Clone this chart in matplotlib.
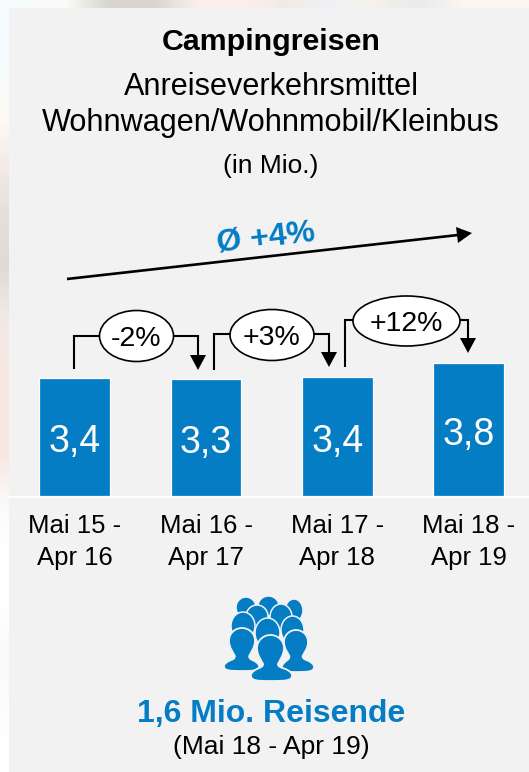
import matplotlib
matplotlib.use("Agg")
import matplotlib.pyplot as plt
from matplotlib.colors import to_rgb
from matplotlib.patches import Ellipse, PathPatch, Polygon, Rectangle
from matplotlib.path import Path

# ── Data ──────────────────────────────────────────────────────────────────────
PERIODS = ["Mai 15 -\nApr 16", "Mai 16 -\nApr 17", "Mai 17 -\nApr 18", "Mai 18 -\nApr 19"]
VALUES = [3.40, 3.36, 3.43, 3.83]
VALUE_LABELS = ["3,4", "3,3", "3,4", "3,8"]
CHANGES = ["-2%", "+3%", "+12%"]

# colours of the faded photo behind the panel, sampled along the two visible strips
TOP_STRIP = ["#F6FCFD", "#FBFBF8", "#D6D3D0", "#D8D5D2", "#FBEFEA", "#FCEFEA", "#F2EAE6",
             "#EEF2F5", "#F7F1E8", "#E9EBEE", "#FBF6EE", "#FBF6EE"]
LEFT_STRIP = ["#F6FCFD", "#F6FCFD", "#FDFAF2", "#F3E9E6", "#E4DFDC", "#DEDAD8", "#F0E8E6",
              "#F8E8E4", "#F8E8E4", "#F8E8E4", "#FBFBFB", "#FFFFFF", "#FFFFFF", "#FAFAFA",
              "#FCFCFC", "#FFFFFF"]

BLUE = "#047DC4"
PANEL = "#F2F2F2"
W, H = 529, 772
BAR_X0, BAR_STEP = 74.7, 131.3
BASE_Y, PX_PER_UNIT = 496, 34.7

plt.rcParams["font.family"] = ["Liberation Sans", "DejaVu Sans"]

fig = plt.figure(figsize=(W / 100, H / 100), dpi=100, facecolor="white")

# full-figure axes in pixel coordinates for the decoration
ax = fig.add_axes([0, 0, 1, 1])

ax.imshow([[to_rgb(c) for c in TOP_STRIP]], extent=(0, W, 8, 0), aspect="auto",
          interpolation="bilinear")
ax.imshow([[to_rgb(c)] for c in LEFT_STRIP], extent=(0, 9, H, 0), aspect="auto",
          interpolation="bilinear")
ax.set_xlim(0, W)
ax.set_ylim(H, 0)
ax.axis("off")

ax.add_patch(Rectangle((9, 8), W - 9, H - 8, color=PANEL, lw=0))
ax.plot([9, W], [497, 497], color="white", lw=1.4)

# ── Titles ────────────────────────────────────────────────────────────────────
ax.text(271, 42, "Campingreisen", fontsize=21.9, fontweight="bold", ha="center", va="center")
ax.text(271, 87, "Anreiseverkehrsmittel", fontsize=22.1, ha="center", va="center")
ax.text(271, 123, "Wohnwagen/Wohnmobil/Kleinbus", fontsize=22.1, ha="center", va="center")
ax.text(271, 166, "(in Mio.)", fontsize=19, ha="center", va="center")

# ── Bars ──────────────────────────────────────────────────────────────────────
bar_ax = fig.add_axes([9 / W, (H - BASE_Y) / H, (W - 9) / W, 196 / H])
bar_ax.patch.set_alpha(0)
bar_ax.axis("off")
bar_ax.set_xlim((9 - BAR_X0) / BAR_STEP, (W - BAR_X0) / BAR_STEP)
bar_ax.set_ylim(0, 196 / PX_PER_UNIT)
xs = range(len(VALUES))
bar_ax.bar(xs, VALUES, width=0.54, color=BLUE, edgecolor="white", linewidth=0.9)
for x, v, lab in zip(xs, VALUES, VALUE_LABELS):
    bar_ax.text(x, v / 2 - 0.15, lab, color="white", fontsize=27, ha="center", va="center")
for x, p in zip(xs, PERIODS):
    ax.text(BAR_X0 + BAR_STEP * x, 542, p, fontsize=18.5, ha="center", va="center", linespacing=1.38)

# ── Growth arrow ──────────────────────────────────────────────────────────────
ax.plot([67, 458], [279, 235], color="black", lw=1.9, solid_capstyle="butt")
ax.add_patch(Polygon([(472, 233), (456, 227), (458, 243)], closed=True, color="black", lw=0))
ax.text(266, 238, "Ø +4%", color=BLUE, fontsize=23, fontweight="bold", rotation=6.5,
        ha="center", va="center", rotation_mode="anchor")

# ── Change brackets ───────────────────────────────────────────────────────────
brackets = [
    (74, 369, 336, 198, 370),
    (214, 370, 334, 329, 367),
    (345, 367, 320, 468, 353),
]
ellipses = [(136.5, 336, 74, 51), (272, 335, 84, 51), (406.5, 321, 107, 50)]
for (x0, y0, ytop, x1, y1), (ex, ey, ew, eh), lab in zip(brackets, ellipses, CHANGES):
    ax.plot([x0, x0, x1, x1], [y0, ytop, ytop, y1 - 14], color="black", lw=1.5,
            solid_joinstyle="miter", solid_capstyle="butt")
    ax.add_patch(Polygon([(x1 - 8, y1 - 15), (x1 + 8, y1 - 15), (x1, y1)], closed=True,
                         color="black", lw=0))
    ax.add_patch(Ellipse((ex, ey), ew, eh, fc="white", ec="black", lw=1.2, zorder=3))
    ax.text(ex, ey + 3, lab, fontsize=20.5, ha="center", va="center", zorder=4)


# ── People icon ───────────────────────────────────────────────────────────────
def dome(x0, x1, top, bottom):
    """Head further back, mostly hidden by the row in front."""
    ax.add_patch(Ellipse(((x0 + x1) / 2, (top + bottom) / 2), x1 - x0, bottom - top,
                         fc=BLUE, ec=PANEL, lw=1.1))


def bust(head_x0, head_x1, top, neck_y, body_x0, body_x1, bottom):
    """Head and shoulders silhouette."""
    cx = (head_x0 + head_x1) / 2
    hw = (head_x1 - head_x0) / 2
    nw = hw * 0.55
    bl, br = body_x0, body_x1
    mid = top + (neck_y - top) * 0.42
    sh = neck_y + (bottom - neck_y) * 0.55
    k = 0.55
    verts = [
        (cx, top),
        (cx + k * hw, top), (head_x1, mid - k * (mid - top)), (head_x1, mid),
        (head_x1, mid + 7), (cx + nw + 2, neck_y - 6), (cx + nw, neck_y - 2),
        (cx + nw, neck_y + 3), (br - 4, neck_y + 1), (br, sh),
        (br + 1, bottom), (br - 6, bottom), (cx, bottom),
        (bl + 6, bottom), (bl - 1, bottom), (bl, sh),
        (bl + 4, neck_y + 1), (cx - nw, neck_y + 3), (cx - nw, neck_y - 2),
        (cx - nw - 2, neck_y - 6), (head_x0, mid + 7), (head_x0, mid),
        (head_x0, mid - k * (mid - top)), (cx - k * hw, top), (cx, top),
        (cx, top),
    ]
    codes = [Path.MOVETO] + [Path.CURVE4] * 24 + [Path.CLOSEPOLY]
    ax.add_patch(PathPatch(Path(verts, codes), fc=BLUE, ec=PANEL, lw=1.3))


dome(236, 256, 597, 618)
dome(285, 303, 599, 622)
dome(258, 279, 596, 616)
dome(246, 268, 605, 628)
dome(270, 292, 604, 630)
dome(231, 255, 612, 640)
dome(281, 304, 616, 644)
dome(255, 280, 618, 648)
bust(229, 255, 628, 658, 224, 259, 671)
bust(284, 308, 630, 658, 282, 314, 672)
bust(257, 284, 635, 666, 251, 292, 681)

# ── Footer ────────────────────────────────────────────────────────────────────
ax.text(271, 714, "1,6 Mio. Reisende", color=BLUE, fontsize=23, fontweight="bold",
        ha="center", va="center")
ax.text(271, 747, "(Mai 18 - Apr 19)", fontsize=19, ha="center", va="center")

fig.savefig("out.png", dpi=100)
